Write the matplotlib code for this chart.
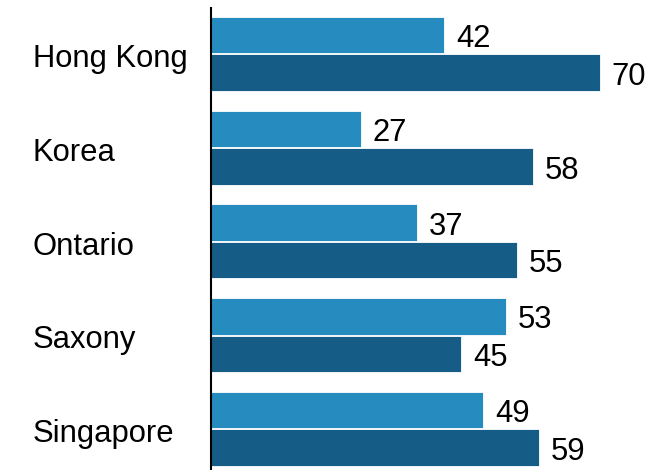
import matplotlib.pyplot as plt
import numpy as np

plt.rcParams['font.family'] = ['Liberation Sans', 'DejaVu Sans']

regions = ["Hong Kong", "Korea", "Ontario", "Saxony", "Singapore"]
first = [42, 27, 37, 53, 49]
second = [70, 58, 55, 45, 59]

light = "#268bbf"
dark = "#155d87"

fig = plt.figure(figsize=(6.69, 4.70), dpi=100)
ax = fig.add_axes([211 / 669, 0, 458 / 669, 1 - 8 / 470])

y = np.arange(len(regions))
h = 0.39
ax.barh(y - 0.2, first, height=h, color=light, edgecolor="white", linewidth=0.6)
ax.barh(y + 0.2, second, height=h, color=dark, edgecolor="white", linewidth=0.6)

# value labels just past the bar ends
for yi, a, b in zip(y, first, second):
    ax.text(a + 2.1, yi - 0.2 + 0.13, str(a), va="baseline", ha="left", fontsize=22.3)
    ax.text(b + 2.1, yi + 0.2 + 0.13, str(b), va="baseline", ha="left", fontsize=22.3)

# category names sit left of the axis line
for yi, name in zip(y, regions):
    ax.text(-0.389, yi + 0.142, name, transform=ax.get_yaxis_transform(),
            va="baseline", ha="left", fontsize=22.3)

ax.set_xlim(0, 82.4)
ax.set_ylim(4.44, -0.49)
ax.set_xticks([])
ax.set_yticks([])
for side in ["top", "right", "bottom"]:
    ax.spines[side].set_visible(False)
ax.spines["left"].set_linewidth(1.5)
ax.spines["left"].set_color("black")

fig.savefig("out.png", dpi=100)
